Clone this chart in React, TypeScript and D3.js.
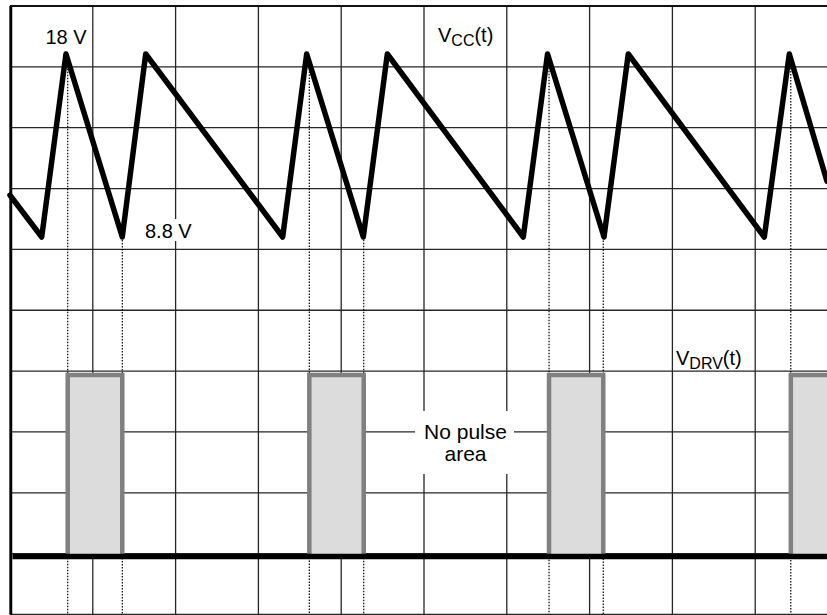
import React from 'react';
import * as d3 from 'd3';

const W = 827;
const H = 615;

// grid divisions (oscilloscope style 10 x 10)
const gridCols = d3.range(0, 11);
const gridRows = d3.range(0, 11);

// Vcc(t) waveform: time in divisions, value in volts
const vccTime = [0, 0.383, 0.676, 1.356, 1.639, 3.293, 3.583, 4.267, 4.557, 6.199, 6.492, 7.174, 7.467, 9.11, 9.412, 9.867];
const vccVolts = [10.9, 8.8, 18, 8.8, 18, 8.8, 18, 8.8, 18, 8.8, 18, 8.8, 18, 8.8, 18, 11.6];

// Vdrv(t) pulses: start / end in divisions
const pulseStart = [0.697, 3.615, 6.51, 9.43];
const pulseEnd = [1.356, 4.272, 7.165, 10.4];
const drvLow = 0;
const drvHigh = 12;

const FONT = 'Liberation Sans, Arial, Helvetica, sans-serif';

export default function App() {
  const x = d3.scaleLinear().domain([0, 10]).range([10, 838]);
  const gy = d3.scaleLinear().domain([0, 10]).range([614.5, 6]);
  const vy = d3.scaleLinear().domain([8.8, 18]).range([237, 54]);
  const dy = d3.scaleLinear().domain([drvLow, drvHigh]).range([556.5, 375]);
  const vccAt = d3.scaleLinear().domain(vccTime).range(vccVolts);

  const pts: [number, number][] = vccTime.map((t, i) => [t, vccVolts[i]]);
  const line = d3
    .line<[number, number]>()
    .x((d) => x(d[0]))
    .y((d) => vy(d[1]));

  const edges = [
    ...pulseStart.filter((t) => t < 10),
    ...pulseEnd.filter((t) => t < 10),
  ];

  const gridColor = '#262626';

  return (
    <div style={{ position: 'absolute', left: 0, top: 0 }}>
      <svg width={W} height={H} style={{ display: 'block', background: '#fff' }}>
        <rect x={0} y={0} width={W} height={H} fill="#fff" />
        {/* grid */}
        {gridCols.map((c) => (
          <line key={'c' + c} x1={x(c)} x2={x(c)} y1={gy(10)} y2={gy(0)} stroke={gridColor} strokeWidth={1.3} />
        ))}
        {gridRows.map((r) => (
          <line key={'r' + r} x1={x(0)} x2={W} y1={gy(r)} y2={gy(r)} stroke={gridColor} strokeWidth={1.3} />
        ))}
        {/* borders */}
        <line x1={11} x2={11} y1={gy(10)} y2={gy(0)} stroke="#000" strokeWidth={2.5} />
        <line x1={x(0)} x2={W} y1={gy(10)} y2={gy(10)} stroke="#111" strokeWidth={1.8} />

        {/* dotted edge markers */}
        {edges.map((t, i) => (
          <line
            key={'e' + i}
            x1={x(t)}
            x2={x(t)}
            y1={vy(vccAt(t))}
            y2={gy(0)}
            stroke="#000"
            strokeWidth={1.2}
            strokeDasharray="1.5,1.5"
          />
        ))}

        {/* Vdrv pulses */}
        {pulseStart.map((s, i) => (
          <rect
            key={'p' + i}
            x={x(s)}
            y={dy(drvHigh)}
            width={x(pulseEnd[i]) - x(s)}
            height={dy(drvLow) - dy(drvHigh)}
            fill="#dcdcdc"
            stroke="#808080"
            strokeWidth={4.5}
          />
        ))}
        {/* baseline */}
        <line x1={12.5} x2={W} y1={dy(drvLow)} y2={dy(drvLow)} stroke="#000" strokeWidth={5.5} />

        {/* Vcc waveform */}
        <path d={line(pts) || ''} fill="none" stroke="#000" strokeWidth={5.5} strokeLinejoin="round" strokeLinecap="round" />

        {/* labels */}
        <g fontFamily={FONT} fill="#000">
          <text x={45.5} y={43.5} fontSize={20}>18 V</text>
          <rect x={143} y={219} width={50} height={22} fill="#fff" />
          <text x={145} y={237.5} fontSize={20}>8.8 V</text>
          <text x={438} y={41.5} fontSize={20}>
            V<tspan fontSize={16} dy={4}>CC</tspan>
            <tspan dy={-4}>(t)</tspan>
          </text>
          <text x={676} y={365} fontSize={20}>
            V<tspan fontSize={16} dy={4}>DRV</tspan>
            <tspan dy={-4}>(t)</tspan>
          </text>
          <rect x={415} y={411} width={99} height={63} fill="#fff" />
          <text x={465.5} y={438.5} fontSize={21} textAnchor="middle">No pulse</text>
          <text x={465.5} y={460.5} fontSize={21} textAnchor="middle">area</text>
        </g>
      </svg>
    </div>
  );
}
